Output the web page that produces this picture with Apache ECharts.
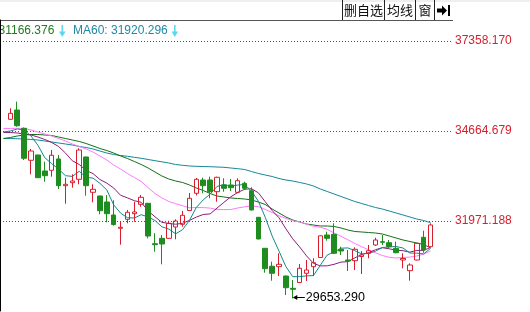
<!DOCTYPE html>
<html>
<head>
<meta charset="utf-8">
<script src="https://cdn.jsdelivr.net/npm/echarts@6/dist/echarts.min.js"></script>
<style>
html,body{margin:0;padding:0;background:#fff;}
#chart{width:530px;height:312px;}
</style>
</head>
<body>
<div id="chart"></div>
<script>
// index 0 = an earlier session whose candle lies just outside the left edge
const categories = Array.from({length: 63}, (_, i) => 'D' + i);

const opens = ['-',35015,35293,34746,33788,33946,33468,33489,33827,33028,33117,33219,33887,32830,32719,32540,32151,31753,32022,32190,32471,32501,31292,31453,31453,31792,31872,32285,32800,33198,33198,32848,33049,33049,32830,33100,32878,32082,31154,30616,30604,30325,29957,30131,30406,30604,30879,31552,31573,31124,30804,30783,30909,31005,31253,31352,31322,31154,30804,30484,30804,31483,31202];
const closes = ['-',35194,34823,33848,34066,33267,33327,33938,33028,33070,33168,34096,33028,32920,32280,32190,31867,31783,32232,32241,32681,31522,31262,31283,31902,31971,32142,32651,33219,33028,32848,33279,32950,32968,33177,32950,32300,31433,30544,30406,30675,29975,29927,30556,30505,30723,31528,31453,31005,31073,30774,31124,30954,31082,31403,31334,31202,31023,30849,30654,31304,31103,31852];
const lows = ['-',35000,34793,33797,33369,33258,33147,33297,32929,32489,32968,33070,32728,32531,32172,31932,31831,31262,31902,31950,32399,31453,31052,30675,31440,31424,31801,32270,32734,32800,32651,32549,32848,32869,32800,32899,32290,31420,30424,30185,30325,29757,29653.29,30120,30176,30325,30870,31382,30984,30954,30475,30505,30385,30855,31223,31253,31154,31005,30556,30185,30795,31023,31195];
const highs = ['-',35344,35542,34770,34126,33955,33746,34096,33946,33267,33369,34147,33895,33070,32730,32749,32591,31950,32300,32549,32749,32510,31603,31552,31980,32022,32271,32809,33258,33267,33297,33297,33249,33228,33249,33147,32980,32090,31160,30753,31005,30335,30205,30684,30804,30855,31537,31651,31902,31202,31103,31184,31073,31253,31471,31552,31403,31352,31005,30705,31310,31681,31902];

const ma5  = [34635,34665,34725,34695,34515,34240,33866,33689,33525,33327,33306,33459,33279,33255,33100,32902,32456,32208,32070,32061,32160,32091,31986,31798,31729,31588,31711,31989,32378,32603,32776,33004,33064,33016,33046,33064,32869,32567,32082,31525,31070,30606,30304,30307,30328,30337,30648,30954,31043,31157,31166,31085,30987,31002,31067,31178,31196,31208,31163,31013,31008,30987,31151];
const ma10 = [34620,34620,34605,34575,34545,34485,34411,34321,34201,34006,33773,33662,33483,33390,33213,33106,32959,32743,32663,32579,32531,32274,32097,31932,31896,31875,31902,31989,32088,32166,32184,32357,32528,32696,32824,32920,32938,32815,32549,32286,32067,31738,31436,31193,30927,30705,30627,30630,30675,30741,30753,30867,30969,31022,31112,31172,31139,31097,31082,31040,31091,31091,31181];
const ma20 = [34740,34740,34746,34740,34695,34635,34575,34515,34440,34366,34276,34201,34126,34036,33917,33797,33647,33528,33393,33273,33153,32968,32791,32663,32555,32489,32429,32366,32375,32372,32357,32315,32312,32315,32360,32396,32420,32402,32318,32226,32127,32049,31980,31944,31875,31813,31783,31723,31612,31513,31409,31301,31202,31109,31019,30939,30885,30864,30879,30891,30924,30978,31076];
const ma30 = [34440,34470,34515,34545,34560,34560,34545,34530,34485,34440,34396,34351,34291,34216,34141,34081,34006,33917,33842,33752,33662,33557,33438,33318,33228,33168,33124,33049,32959,32884,32794,32719,32690,32660,32645,32630,32600,32540,32465,32330,32211,32091,32001,31941,31881,31851,31822,31822,31807,31762,31702,31657,31642,31627,31612,31582,31522,31462,31403,31358,31313,31268,31166.376];
const ma60 = [34443,34440,34434,34425,34411,34396,34366,34336,34306,34276,34246,34201,34171,34126,34066,34006,33961,33932,33908,33878,33848,33812,33776,33743,33707,33662,33638,33617,33608,33602,33596,33587,33578,33557,33537,33513,33453,33393,33348,33303,33243,33198,33168,33124,33079,33019,32929,32854,32779,32704,32630,32555,32495,32435,32375,32330,32270,32211,32151,32091,32031,31986,31920.296];

const yTicks = [31971.188, 34664.679, 37358.170];
const tickStep = 2693.491;
const yMin = 29277.697;
const yMax = 37986.66;

const RED = '#d81e2c';
const GREEN = '#1e8c1e';
const C_MA5 = '#138a8a';
const C_MA10 = '#8c1c7c';
const C_MA20 = '#ff78ff';
const C_MA30 = '#127016';
const C_MA60 = '#14889a';
const ARROW = '#5cd8ee';

const candleData = opens.map((o, i) => o === '-' ? '-' : [o, closes[i], lows[i], highs[i]]);
const realLows = lows.filter(v => v !== '-');
const lowValue = Math.min(...realLows);
const lowIndex = lows.indexOf(lowValue);

const FONT = '"Liberation Sans", Arial, sans-serif';
const CJK = '"Noto Sans CJK SC", sans-serif';

function lineSeries(name, data, color) {
  return {
    name, type: 'line', data, xAxisIndex: 0, yAxisIndex: 0,
    symbol: 'none', showSymbol: false, smooth: false, z: 2,
    lineStyle: {width: 1, color}, itemStyle: {color},
    emphasis: {disabled: true}, silent: true
  };
}
function downArrow(cx) {
  return [
    {type: 'rect', shape: {x: cx - 0.5, y: 25, width: 1.6, height: 8}, style: {fill: ARROW}, silent: true},
    {type: 'polygon', shape: {points: [[cx - 3, 31.5], [cx + 3.6, 31.5], [cx + 0.3, 37]]}, style: {fill: ARROW}, silent: true}
  ];
}

const chart = echarts.init(document.getElementById('chart'), null, {renderer: 'canvas'});
chart.setOption({
  animation: false,
  backgroundColor: '#ffffff',
  grid: [
    {left: -7, top: 20, width: 441, bottom: 1},
    {left: 0, top: 20, width: 453, bottom: 1}
  ],
  xAxis: [
    {type: 'category', gridIndex: 0, data: categories, boundaryGap: true, show: false},
    {type: 'value', gridIndex: 1, min: 0, max: 1, show: false}
  ],
  yAxis: [
    {type: 'value', gridIndex: 0, min: yMin, max: yMax, show: false, scale: true},
    {
      type: 'value', gridIndex: 1, position: 'right', min: yMin, max: yMax,
      interval: tickStep,
      axisLine: {show: true, lineStyle: {color: '#000', width: 1}},
      axisTick: {show: false},
      axisLabel: {
        show: true, color: RED, fontSize: 12, fontFamily: FONT, margin: 2,
        showMinLabel: false, showMaxLabel: false,
        formatter: v => {
          const hit = yTicks.find(t => Math.abs(t - v) < 0.5);
          return hit !== undefined ? hit.toFixed(3) : '';
        }
      },
      splitLine: {show: true, showMinLine: false, showMaxLine: false,
        lineStyle: {color: '#555', width: 1, type: [1, 2]}}
    }
  ],
  series: [
    lineSeries('MA60', ma60, C_MA60),
    lineSeries('MA30', ma30, C_MA30),
    lineSeries('MA20', ma20, C_MA20),
    lineSeries('MA10', ma10, C_MA10),
    lineSeries('MA5', ma5, C_MA5),
    {
      type: 'candlestick', data: candleData, xAxisIndex: 0, yAxisIndex: 0,
      barWidth: 5, z: 3, silent: true,
      itemStyle: {color: 'rgba(255,255,255,0)', color0: GREEN, borderColor: RED, borderColor0: GREEN, borderWidth: 1},
      markPoint: {
        symbol: 'path://M0,2.5L4.5,0L4.5,2L12,2L12,3L4.5,3L4.5,5Z',
        symbolSize: [12, 5], symbolOffset: [6, -1], symbolKeepAspect: false,
        silent: true, animation: false,
        itemStyle: {color: '#000'},
        label: {
          show: true, position: 'right', distance: 1, verticalAlign: 'middle',
          color: '#000', fontSize: 12.5, fontFamily: FONT,
          formatter: lowValue.toFixed(3)
        },
        data: [{coord: [lowIndex, lowValue]}]
      }
    }
  ],
  graphic: [
    {type: 'rect', shape: {x: 0, y: 0, width: 530, height: 2}, style: {fill: '#efefef'}, silent: true},
    {type: 'line', shape: {x1: 0, y1: 20.5, x2: 453, y2: 20.5}, style: {stroke: '#555', lineWidth: 1}, silent: true},
    {type: 'line', shape: {x1: 342.5, y1: 0, x2: 342.5, y2: 20}, style: {stroke: '#222', lineWidth: 1}, silent: true},
    {type: 'line', shape: {x1: 384.5, y1: 0, x2: 384.5, y2: 20}, style: {stroke: '#222', lineWidth: 1}, silent: true},
    {type: 'line', shape: {x1: 415.5, y1: 0, x2: 415.5, y2: 20}, style: {stroke: '#222', lineWidth: 1}, silent: true},
    {type: 'line', shape: {x1: 434.5, y1: 0, x2: 434.5, y2: 20}, style: {stroke: '#222', lineWidth: 1}, silent: true},
    {type: 'text', x: 363.5, y: 10.5, style: {text: '删自选', fill: '#111', font: '13px ' + CJK, textAlign: 'center', textVerticalAlign: 'middle'}, silent: true},
    {type: 'text', x: 400, y: 10.5, style: {text: '均线', fill: '#111', font: '13px ' + CJK, textAlign: 'center', textVerticalAlign: 'middle'}, silent: true},
    {type: 'text', x: 425, y: 10.5, style: {text: '窗', fill: '#111', font: '13px ' + CJK, textAlign: 'center', textVerticalAlign: 'middle'}, silent: true},
    {type: 'polygon', shape: {points: [[437,8.5],[442,8.5],[442,5.5],[447,10.5],[442,15.5],[442,12.5],[437,12.5]]}, style: {fill: '#000'}, silent: true},
    {type: 'rect', shape: {x: 448, y: 5, width: 2, height: 11}, style: {fill: '#000'}, silent: true},
    {type: 'text', x: -1.5, y: 31, style: {text: ma30[ma30.length - 1].toFixed(3), fill: '#1f7a1f', font: '12px ' + FONT, textVerticalAlign: 'middle'}, silent: true},
    ...downArrow(62),
    {type: 'text', x: 73, y: 31, style: {text: 'MA60: ' + ma60[ma60.length - 1].toFixed(3), fill: '#1d8aa3', font: '12px ' + FONT, textVerticalAlign: 'middle'}, silent: true},
    ...downArrow(174.5)
  ]
});
</script>
</body>
</html>
